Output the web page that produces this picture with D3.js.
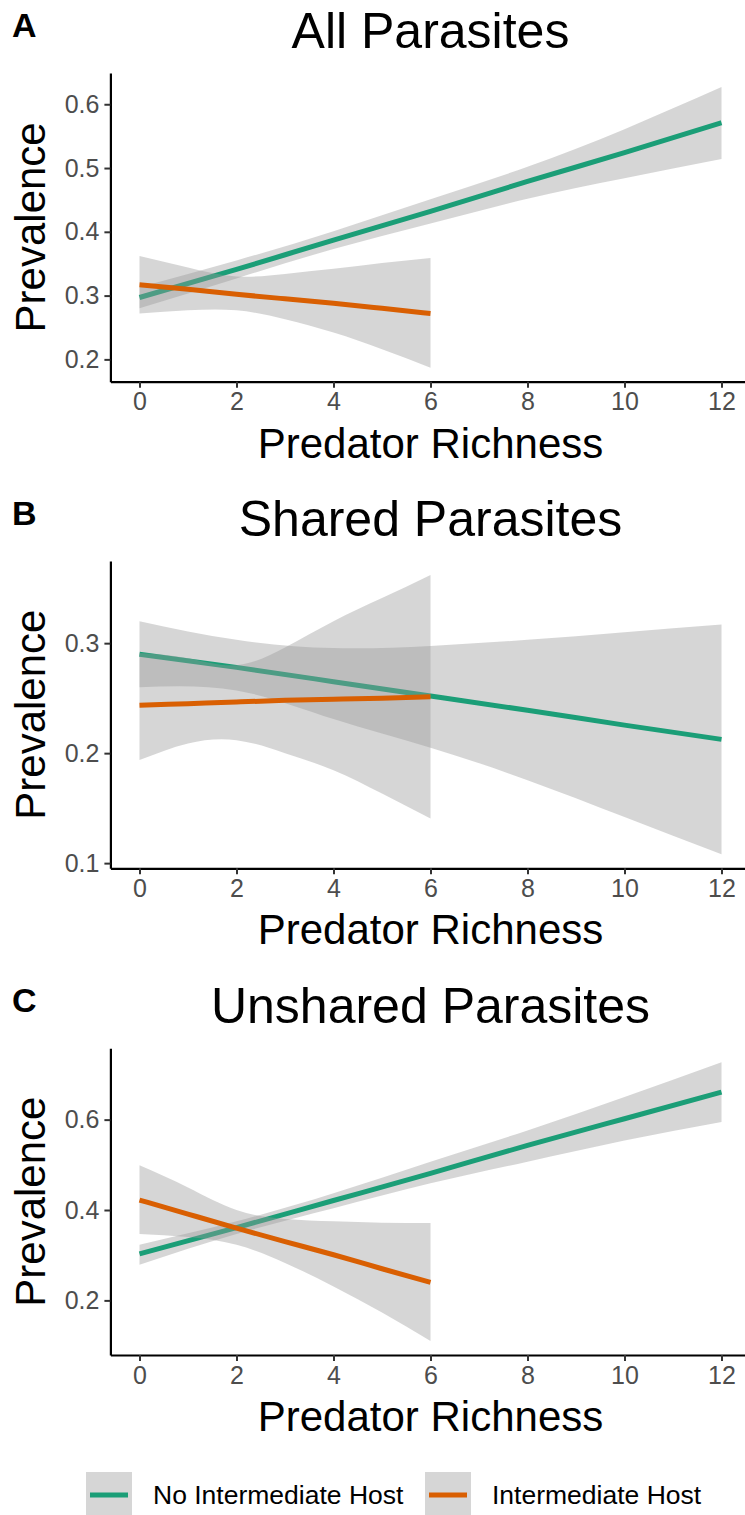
<!DOCTYPE html>
<html>
<head>
<meta charset="utf-8">
<script src="https://cdn.jsdelivr.net/npm/d3@7"></script>
<style>
  body { margin: 0; background: #fff; }
  svg text { font-family: "Liberation Sans", Arial, sans-serif; }
</style>
</head>
<body>
<div id="chart"></div>
<script>
// predator richness values where the fitted curves were read
const xNo = [0, 2, 4, 6, 8, 10, 12];
const xIH = [0, 1, 2, 3, 4, 5, 6];
const xTicks = [0, 2, 4, 6, 8, 10, 12];

// A: all parasites
const allNoFit = [0.297, 0.341, 0.387, 0.432, 0.479, 0.524, 0.571];
const allNoLo  = [0.280, 0.327, 0.373, 0.413, 0.452, 0.484, 0.514];
const allNoHi  = [0.313, 0.355, 0.401, 0.451, 0.502, 0.561, 0.627];
const allIHFit = [0.317, 0.310, 0.302, 0.295, 0.288, 0.280, 0.272];
const allIHLo  = [0.272, 0.277, 0.277, 0.263, 0.242, 0.216, 0.187];
const allIHHi  = [0.362, 0.344, 0.330, 0.334, 0.342, 0.351, 0.359];

// B: shared parasites
const shNoFit = [0.290, 0.278, 0.265, 0.252, 0.239, 0.2255, 0.2125];
const shNoLo  = [0.260, 0.257, 0.231, 0.205, 0.1754, 0.142, 0.108];
const shNoHi  = [0.320, 0.303, 0.2955, 0.2975, 0.303, 0.310, 0.317];
const shIHFit = [0.2435, 0.245, 0.2465, 0.248, 0.249, 0.250, 0.2513];
const shIHLo  = [0.1937, 0.2088, 0.2118, 0.200, 0.1845, 0.1632, 0.1405];
const shIHHi  = [0.291, 0.2863, 0.280, 0.296, 0.320, 0.341, 0.362];

// C: unshared parasites
const unNoFit = [0.303, 0.361, 0.421, 0.481, 0.543, 0.602, 0.661];
const unNoLo  = [0.279, 0.347, 0.404, 0.459, 0.507, 0.554, 0.595];
const unNoHi  = [0.323, 0.375, 0.437, 0.507, 0.576, 0.650, 0.727];
const unIHFit = [0.422, 0.391, 0.360, 0.330, 0.301, 0.270, 0.240];
const unIHLo  = [0.347, 0.340, 0.323, 0.283, 0.231, 0.173, 0.110];
const unIHHi  = [0.499, 0.450, 0.400, 0.380, 0.375, 0.372, 0.371];

const seriesNames = ["No Intermediate Host", "Intermediate Host"];
const colors = ["#1B9E77", "#D95F02"];

const panels = [
  {tag: "A", title: "All Parasites", ticks: [0.2, 0.3, 0.4, 0.5, 0.6],
   no: [allNoFit, allNoLo, allNoHi], ih: [allIHFit, allIHLo, allIHHi], top: 73, bottom: 381.7},
  {tag: "B", title: "Shared Parasites", ticks: [0.1, 0.2, 0.3],
   no: [shNoFit, shNoLo, shNoHi], ih: [shIHFit, shIHLo, shIHHi], top: 561, bottom: 868.3},
  {tag: "C", title: "Unshared Parasites", ticks: [0.2, 0.4, 0.6],
   no: [unNoFit, unNoLo, unNoHi], ih: [unIHFit, unIHLo, unIHHi], top: 1048.3, bottom: 1355}
];

const W = 745, H = 1515;
const left = 110.4, right = 750.6;

const svg = d3.select("#chart").append("svg")
  .attr("width", W).attr("height", H);

const x = d3.scaleLinear().domain([-0.6, 12.6]).range([left, right]);

const toRows = (xs, arr) => xs.map((v, i) => ({x: v, fit: arr[0][i], lo: arr[1][i], hi: arr[2][i]}));

panels.forEach(p => {
  const g = svg.append("g");
  const all = p.no[1].concat(p.no[2], p.ih[1], p.ih[2]);
  const lo = d3.min(all), hi = d3.max(all);
  const pad = (hi - lo) * 0.05;
  const y = d3.scaleLinear().domain([lo - pad, hi + pad]).range([p.bottom, p.top]);

  const area = d3.area().x(d => x(d.x)).y0(d => y(d.lo)).y1(d => y(d.hi)).curve(d3.curveNatural);
  const line = d3.line().x(d => x(d.x)).y(d => y(d.fit)).curve(d3.curveNatural);

  // ggplot order: ribbon + line per group
  [[xNo, p.no, colors[0]], [xIH, p.ih, colors[1]]].forEach(([xs, arr, col]) => {
    const rows = toRows(xs, arr);
    g.append("path").datum(rows).attr("d", area)
      .attr("fill", "#999999").attr("fill-opacity", 0.4);
    g.append("path").datum(rows).attr("d", line)
      .attr("fill", "none").attr("stroke", col).attr("stroke-width", 5);
  });

  // axes
  const yAxis = g.append("g").attr("transform", `translate(${left},0)`)
    .call(d3.axisLeft(y).tickValues(p.ticks).tickFormat(d3.format(".1f")).tickSize(6).tickSizeOuter(0).tickPadding(5));
  const xAxis = g.append("g").attr("transform", `translate(0,${p.bottom})`)
    .call(d3.axisBottom(x).tickValues(xTicks).tickFormat(d3.format("d")).tickSize(6).tickSizeOuter(0).tickPadding(5));
  [yAxis, xAxis].forEach(a => {
    a.select(".domain").attr("stroke", "#000").attr("stroke-width", 2.2);
    a.selectAll(".tick line").attr("stroke", "#333").attr("stroke-width", 2);
    a.selectAll(".tick text").attr("fill", "#4D4D4D").style("font-size", "25px")
      .style("font-family", "Liberation Sans, Arial, sans-serif");
  });

  const cx = (left + right) / 2;
  g.append("text").attr("x", cx).attr("y", p.top - 25)
    .attr("text-anchor", "middle").style("font-size", "50px").attr("fill", "#000").text(p.title);
  g.append("text").attr("x", 12).attr("y", p.top - 36)
    .style("font-size", "34px").style("font-weight", "bold").attr("fill", "#000").text(p.tag);
  g.append("text").attr("x", cx).attr("y", p.bottom + 76)
    .attr("text-anchor", "middle").style("font-size", "42px").attr("fill", "#000").text("Predator Richness");
  g.append("text").attr("transform", `translate(45,${(p.top + p.bottom) / 2}) rotate(-90)`)
    .attr("text-anchor", "middle").style("font-size", "42px").attr("fill", "#000").text("Prevalence");
});

// legend
const legX = [86, 425];
seriesNames.forEach((name, i) => {
  const lg = svg.append("g").attr("transform", `translate(${legX[i]},1472)`);
  lg.append("rect").attr("width", 46).attr("height", 46).attr("fill", "#999999").attr("fill-opacity", 0.4);
  lg.append("line").attr("x1", 4).attr("x2", 42).attr("y1", 23).attr("y2", 23)
    .attr("stroke", colors[i]).attr("stroke-width", 5);
  lg.append("text").attr("x", 67).attr("y", 23).attr("dy", "0.35em")
    .style("font-size", "26.5px").attr("fill", "#000").text(name);
});
</script>
</body>
</html>
